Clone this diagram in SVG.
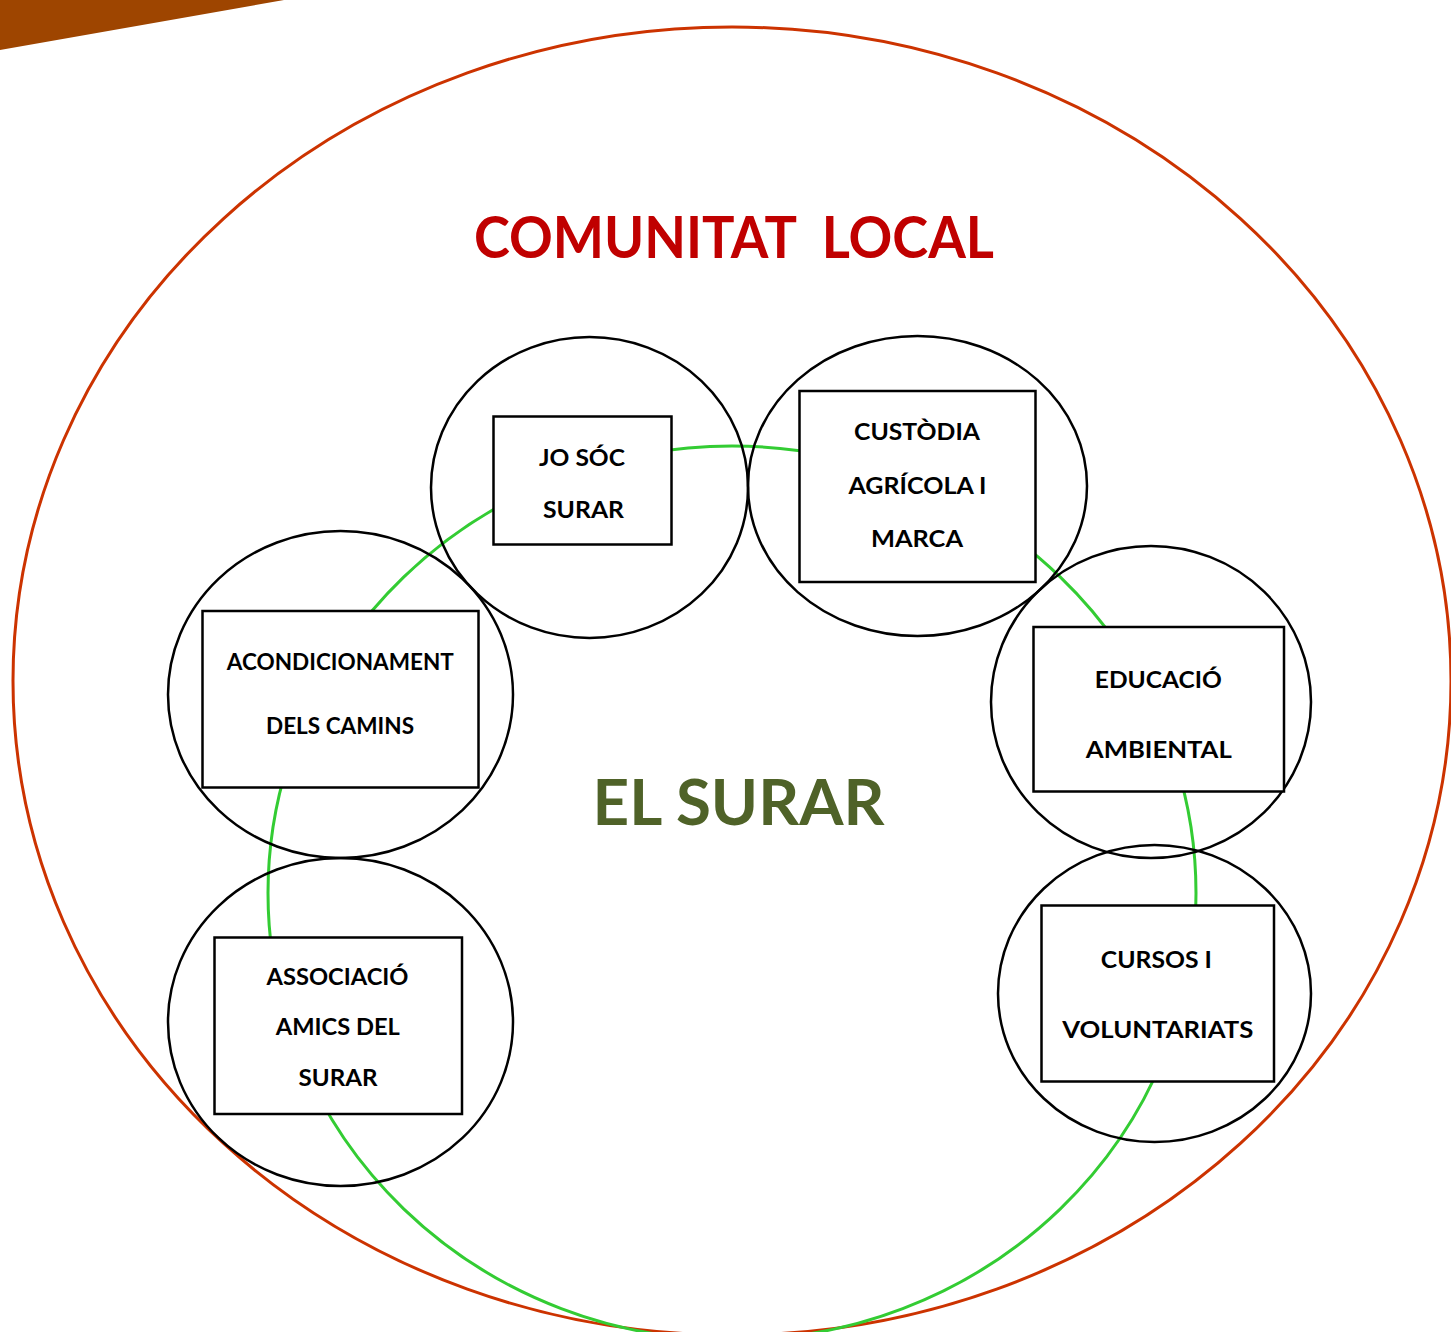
<svg xmlns="http://www.w3.org/2000/svg" width="1451" height="1332" viewBox="0 0 1451 1332">
<style>
.ring{fill:none;stroke:#000;stroke-width:2.5}
.box{fill:#fff;stroke:#000;stroke-width:2.5}
.lbl{font-family:Lato,"Open Sans","Liberation Sans",sans-serif;font-weight:700;font-size:23px;fill:#000;text-anchor:middle}
.big{font-family:Lato,"Open Sans","Liberation Sans",sans-serif;font-weight:700;text-anchor:middle}
</style>
<rect x="0" y="0" width="1451" height="1332" fill="#fff"/>
<polygon points="0,0 284,0 0,50" fill="#9E4500"/>
<g id="comunitat-local">
<ellipse cx="732" cy="681" rx="719" ry="654" fill="none" stroke="#CC3300" stroke-width="3"/>
<text class="big" x="734" y="258" font-size="58" fill="#C00000" textLength="520" lengthAdjust="spacingAndGlyphs" xml:space="preserve">COMUNITAT  LOCAL</text>
</g>
<g id="connectors">
<ellipse cx="732" cy="893" rx="464" ry="447" fill="none" stroke="#33CC33" stroke-width="3"/>
</g>
<g id="el-surar">
<text class="big" x="738.5" y="825" font-size="63" fill="#4F6228" textLength="292" lengthAdjust="spacingAndGlyphs">EL SURAR</text>
</g>
<g id="jo-soc-surar">
<ellipse class="ring" cx="589.5" cy="487.5" rx="158.5" ry="150.5"/>
<rect class="box" x="493.5" y="416.5" width="178" height="128"/>
<text class="lbl" x="582" y="466" textLength="86" lengthAdjust="spacingAndGlyphs">JO SÓC</text>
<text class="lbl" x="583.5" y="518.3" textLength="81" lengthAdjust="spacingAndGlyphs">SURAR</text>
</g>
<g id="custodia-agricola">
<ellipse class="ring" cx="917.5" cy="486" rx="169.5" ry="150"/>
<rect class="box" x="799.5" y="391" width="236" height="191"/>
<text class="lbl" x="917" y="440" textLength="126" lengthAdjust="spacingAndGlyphs">CUSTÒDIA</text>
<text class="lbl" x="917.5" y="494.3" textLength="138" lengthAdjust="spacingAndGlyphs">AGRÍCOLA I</text>
<text class="lbl" x="917" y="546.7" textLength="92" lengthAdjust="spacingAndGlyphs">MARCA</text>
</g>
<g id="acondicionament">
<ellipse class="ring" cx="340.5" cy="694.5" rx="172.5" ry="163.5"/>
<rect class="box" x="202.5" y="611" width="276" height="176.5"/>
<text class="lbl" x="340.3" y="670" textLength="227" lengthAdjust="spacingAndGlyphs">ACONDICIONAMENT</text>
<text class="lbl" x="340" y="734.3" textLength="148" lengthAdjust="spacingAndGlyphs">DELS CAMINS</text>
</g>
<g id="educacio-ambiental">
<ellipse class="ring" cx="1151" cy="702" rx="160" ry="156"/>
<rect class="box" x="1033.5" y="627" width="250.5" height="164.5"/>
<text class="lbl" x="1158.3" y="688.3" textLength="127" lengthAdjust="spacingAndGlyphs">EDUCACIÓ</text>
<text class="lbl" x="1158.8" y="758.3" textLength="146" lengthAdjust="spacingAndGlyphs">AMBIENTAL</text>
</g>
<g id="associacio">
<ellipse class="ring" cx="340.5" cy="1022" rx="172.5" ry="164"/>
<rect class="box" x="214.5" y="937.5" width="247.5" height="176.5"/>
<text class="lbl" x="337.5" y="985" textLength="142" lengthAdjust="spacingAndGlyphs">ASSOCIACIÓ</text>
<text class="lbl" x="337.8" y="1035" textLength="124" lengthAdjust="spacingAndGlyphs">AMICS DEL</text>
<text class="lbl" x="338" y="1086" textLength="79" lengthAdjust="spacingAndGlyphs">SURAR</text>
</g>
<g id="cursos-voluntariats">
<ellipse class="ring" cx="1154.5" cy="993.5" rx="156.5" ry="148.5"/>
<rect class="box" x="1041.5" y="905.5" width="232.5" height="176"/>
<text class="lbl" x="1156.3" y="968.3" textLength="111" lengthAdjust="spacingAndGlyphs">CURSOS I</text>
<text class="lbl" x="1157.8" y="1038.3" textLength="191" lengthAdjust="spacingAndGlyphs">VOLUNTARIATS</text>
</g>
</svg>
